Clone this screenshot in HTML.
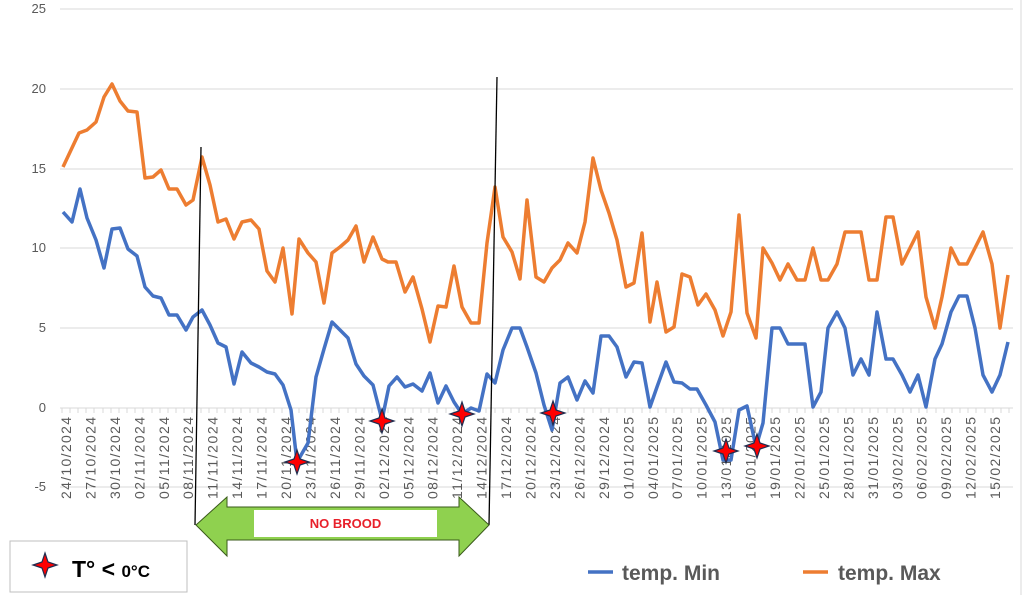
<!DOCTYPE html>
<html><head><meta charset="utf-8"><style>
body{margin:0;background:#fff;}
svg{display:block;font-family:"Liberation Sans",sans-serif;}
</style></head><body>
<svg width="1024" height="595" viewBox="0 0 1024 595">
<rect width="1024" height="595" fill="#fff"/>
<g stroke="#d9d9d9" stroke-width="1">
<line x1="60" y1="9" x2="1013" y2="9"/><line x1="60" y1="89" x2="1013" y2="89"/><line x1="60" y1="169" x2="1013" y2="169"/><line x1="60" y1="248" x2="1013" y2="248"/><line x1="60" y1="328" x2="1013" y2="328"/><line x1="60" y1="487" x2="1013" y2="487"/>
<line x1="60" y1="408" x2="1013" y2="408"/>
</g>
<line x1="1021" y1="0" x2="1021" y2="595" stroke="#d9d9d9"/>
<g fill="#595959" font-size="13" text-anchor="end">
<text x="46" y="13">25</text><text x="46" y="93">20</text><text x="46" y="173">15</text><text x="46" y="252">10</text><text x="46" y="332">5</text><text x="46" y="412">0</text><text x="46" y="491">-5</text>
</g>
<path stroke="#d9d9d9" fill="none" d="M62 408v5M70 408v5M78 408v5M86 408v5M94 408v5M103 408v5M111 408v5M119 408v5M127 408v5M135 408v5M143 408v5M152 408v5M160 408v5M168 408v5M176 408v5M184 408v5M192 408v5M201 408v5M209 408v5M217 408v5M225 408v5M233 408v5M241 408v5M250 408v5M258 408v5M266 408v5M274 408v5M282 408v5M290 408v5M299 408v5M307 408v5M315 408v5M323 408v5M331 408v5M339 408v5M348 408v5M356 408v5M364 408v5M372 408v5M380 408v5M388 408v5M397 408v5M405 408v5M413 408v5M421 408v5M429 408v5M437 408v5M446 408v5M454 408v5M462 408v5M470 408v5M478 408v5M486 408v5M495 408v5M503 408v5M511 408v5M519 408v5M527 408v5M535 408v5M544 408v5M552 408v5M560 408v5M568 408v5M576 408v5M584 408v5M593 408v5M601 408v5M609 408v5M617 408v5M625 408v5M633 408v5M642 408v5M650 408v5M658 408v5M666 408v5M674 408v5M682 408v5M691 408v5M699 408v5M707 408v5M715 408v5M723 408v5M731 408v5M740 408v5M748 408v5M756 408v5M764 408v5M772 408v5M780 408v5M789 408v5M797 408v5M805 408v5M813 408v5M821 408v5M829 408v5M838 408v5M846 408v5M854 408v5M862 408v5M870 408v5M878 408v5M887 408v5M895 408v5M903 408v5M911 408v5M919 408v5M927 408v5M936 408v5M944 408v5M952 408v5M960 408v5M968 408v5M976 408v5M985 408v5M993 408v5M1001 408v5M1009 408v5"/>
<g fill="#595959" font-size="14" text-anchor="end">
<text transform="translate(71,417) rotate(-90)" textLength="82">24/10/2024</text>
<text transform="translate(95.4,417) rotate(-90)" textLength="82">27/10/2024</text>
<text transform="translate(119.9,417) rotate(-90)" textLength="82">30/10/2024</text>
<text transform="translate(144.3,417) rotate(-90)" textLength="82">02/11/2024</text>
<text transform="translate(168.8,417) rotate(-90)" textLength="82">05/11/2024</text>
<text transform="translate(193.2,417) rotate(-90)" textLength="82">08/11/2024</text>
<text transform="translate(217.7,417) rotate(-90)" textLength="82">11/11/2024</text>
<text transform="translate(242.1,417) rotate(-90)" textLength="82">14/11/2024</text>
<text transform="translate(266.6,417) rotate(-90)" textLength="82">17/11/2024</text>
<text transform="translate(291,417) rotate(-90)" textLength="82">20/11/2024</text>
<text transform="translate(315.5,417) rotate(-90)" textLength="82">23/11/2024</text>
<text transform="translate(339.9,417) rotate(-90)" textLength="82">26/11/2024</text>
<text transform="translate(364.4,417) rotate(-90)" textLength="82">29/11/2024</text>
<text transform="translate(388.8,417) rotate(-90)" textLength="82">02/12/2024</text>
<text transform="translate(413.3,417) rotate(-90)" textLength="82">05/12/2024</text>
<text transform="translate(437.7,417) rotate(-90)" textLength="82">08/12/2024</text>
<text transform="translate(462.2,417) rotate(-90)" textLength="82">11/12/2024</text>
<text transform="translate(486.6,417) rotate(-90)" textLength="82">14/12/2024</text>
<text transform="translate(511.1,417) rotate(-90)" textLength="82">17/12/2024</text>
<text transform="translate(535.5,417) rotate(-90)" textLength="82">20/12/2024</text>
<text transform="translate(560,417) rotate(-90)" textLength="82">23/12/2024</text>
<text transform="translate(584.4,417) rotate(-90)" textLength="82">26/12/2024</text>
<text transform="translate(608.9,417) rotate(-90)" textLength="82">29/12/2024</text>
<text transform="translate(633.3,417) rotate(-90)" textLength="82">01/01/2025</text>
<text transform="translate(657.8,417) rotate(-90)" textLength="82">04/01/2025</text>
<text transform="translate(682.2,417) rotate(-90)" textLength="82">07/01/2025</text>
<text transform="translate(706.7,417) rotate(-90)" textLength="82">10/01/2025</text>
<text transform="translate(731.1,417) rotate(-90)" textLength="82">13/01/2025</text>
<text transform="translate(755.6,417) rotate(-90)" textLength="82">16/01/2025</text>
<text transform="translate(780,417) rotate(-90)" textLength="82">19/01/2025</text>
<text transform="translate(804.5,417) rotate(-90)" textLength="82">22/01/2025</text>
<text transform="translate(828.9,417) rotate(-90)" textLength="82">25/01/2025</text>
<text transform="translate(853.4,417) rotate(-90)" textLength="82">28/01/2025</text>
<text transform="translate(877.8,417) rotate(-90)" textLength="82">31/01/2025</text>
<text transform="translate(902.3,417) rotate(-90)" textLength="82">03/02/2025</text>
<text transform="translate(926.7,417) rotate(-90)" textLength="82">06/02/2025</text>
<text transform="translate(951.2,417) rotate(-90)" textLength="82">09/02/2025</text>
<text transform="translate(975.6,417) rotate(-90)" textLength="82">12/02/2025</text>
<text transform="translate(1000.1,417) rotate(-90)" textLength="82">15/02/2025</text>
</g>
<polyline fill="none" stroke="#ed7d31" stroke-width="3.5" stroke-linejoin="round" points="63,167 71,150 79,133 87,130 96,122 104,97 112,84 120,101 128,111 137,112 145,178 153,177 161,170 169,189 177,189 186,205 193,200 202,157 210,185 218,222 226,219 234,239 242,222 251,220 259,229 267,271 275,282 283,248 292,314 299,239 308,253 316,262 324,303 332,253 340,247 348,240 356,226 364,262 373,237 382,259 388,262 396,262 405,292 413,277 422,309 430,342 438,306 446,307 454,266 462,307 471,323 479,323 487,243 495,187 503,237 512,252 520,279 527,200 536,277 544,282 552,268 560,260 568,243 577,253 585,222 593,158 601,190 609,213 617,240 626,287 634,283 642,233 650,322 657,282 666,332 674,327 682,274 690,277 698,305 706,294 715,310 723,336 731,312 739,215 747,313 756,338 763,248 772,263 780,280 788,264 797,280 805,280 813,248 821,280 828,280 837,264 845,232 861,232 869,280 877,280 886,217 893,217 902,264 910,248 918,232 926,297 935,328 942,297 951,248 959,264 967,264 975,248 983,232 992,264 1000,328 1008,275"/>
<polyline fill="none" stroke="#4472c4" stroke-width="3.5" stroke-linejoin="round" points="63,212 72,222 80,189 87,218 96,240 104,268 112,229 120,228 128,249 137,256 145,287 153,296 161,298 169,315 177,315 186,330 193,317 202,310 210,325 218,343 226,347 234,384 242,352 251,363 259,367 267,372 275,374 283,385 291,410 297,462 308,443 316,377 324,349 332,322 340,330 348,338 356,364 364,376 373,385 382,420 389,386 397,377 405,387 413,384 422,391 430,373 438,403 446,386 454,402 462,414 471,408 479,411 487,374 495,383 503,350 512,328 520,328 527,347 536,373 544,405 552,430 560,383 568,377 577,400 585,381 593,393 601,336 609,336 617,347 626,377 634,362 642,363 650,407 657,387 666,362 674,382 682,383 690,389 697,389 706,405 715,422 723,460 731,460 739,410 747,406 756,447 763,423 772,328 780,328 788,344 805,344 813,407 821,392 828,328 837,312 845,328 853,375 861,359 869,375 877,312 886,359 893,359 902,375 910,392 918,375 926,407 935,359 942,344 951,312 959,296 967,296 975,328 983,375 992,392 1000,375 1008,342"/>
<line x1="201" y1="147" x2="195" y2="525" stroke="#000" stroke-width="1.3"/>
<line x1="497" y1="77" x2="489" y2="525" stroke="#000" stroke-width="1.3"/>
<polygon points="196,525 227,497 227,507 459,507 459,497 489,525 459,556 459,540 227,540 227,556" fill="#8fd14f" stroke="#3a5a1a" stroke-width="1"/>
<rect x="254" y="510" width="183" height="27" fill="#fff"/>
<text x="345.5" y="528" text-anchor="middle" fill="#e8202a" font-size="13" font-weight="bold">NO BROOD</text>
<defs><path id="st" d="M0,-12 L3,-3 L12,0 L3,3 L0,12 L-3,3 L-12,0 L-3,-3Z"/></defs>
<g fill="#ff0000" stroke="#1f2d50" stroke-width="1.2">
<use href="#st" x="297" y="462"/><use href="#st" x="382" y="421"/><use href="#st" x="462" y="414"/><use href="#st" x="553" y="413"/><use href="#st" x="726" y="451"/><use href="#st" x="757" y="446"/>
</g>
<rect x="10" y="541" width="177" height="51" fill="#fff" stroke="#bfbfbf" stroke-width="1"/>
<use href="#st" x="45" y="565" fill="#ff0000" stroke="#1f2d50" stroke-width="1.2"/>
<text x="72" y="577" font-size="23" font-weight="bold" fill="#000">T° &lt; <tspan font-size="17">0°C</tspan></text>
<line x1="588" y1="572" x2="613" y2="572" stroke="#4472c4" stroke-width="3.5"/>
<text x="622" y="580" font-size="21" font-weight="bold" fill="#595959">temp. Min</text>
<line x1="803" y1="572" x2="828" y2="572" stroke="#ed7d31" stroke-width="3.5"/>
<text x="838" y="580" font-size="21" font-weight="bold" fill="#595959">temp. Max</text>
</svg>
</body></html>
